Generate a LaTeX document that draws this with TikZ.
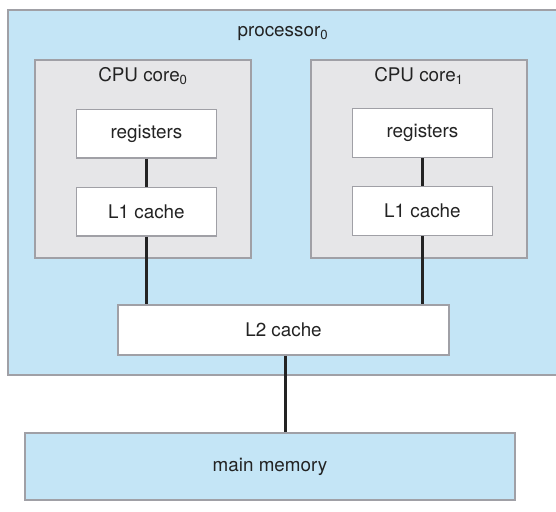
\documentclass[tikz,border=0pt]{standalone}
\usepackage{fontspec}
\setmainfont{TeX Gyre Heros}
\usepackage{tikz}
\usetikzlibrary{positioning}
\definecolor{procblue}{RGB}{196,229,246}
\definecolor{coregray}{RGB}{230,230,232}
\definecolor{edgegray}{RGB}{160,160,166}
\definecolor{inkgray}{RGB}{35,35,35}
\tikzset{
  box/.style={draw=edgegray, line width=0.9pt, inner sep=0pt},
  unit/.style={box, fill=white, minimum width=3.5cm, minimum height=1.22cm},
  wire/.style={line width=2.1pt, draw=inkgray}
}

\begin{document}
\begin{tikzpicture}[font=\fontsize{13.4}{15}\selectfont, text=inkgray]
            \useasboundingbox (0,0) rectangle (13.9,12.8);
            \node (P) [box, fill=procblue, minimum width=13.8cm, minimum height=9.125cm] at (7.1,7.9875) {};
            \node (Plab) at (7.075,11.975) {processor\textsubscript{0}};

            \node (C0) [box, fill=coregray, minimum width=5.4cm, minimum height=4.95cm] at (3.575,8.825) {};
            \node (C1) [box, fill=coregray, minimum width=5.4cm, minimum height=4.95cm] at (10.475,8.825) {};
            \node (C0lab) at (3.575,10.9) {CPU core\textsubscript{0}};
            \node (C1lab) at (10.475,10.9) {CPU core\textsubscript{1}};

            \node (R0) [unit] at (3.66,9.46) {registers};
            \node (L0) [unit, below = 0.7 of R0] {L1 cache};
            \node (R1) [unit] at (10.56,9.47) {registers};
            \node (L1) [unit, below = 0.7 of R1] {L1 cache};

            \node (L2) [unit, minimum width=8.275cm, minimum height=1.25cm] at (7.0875,4.55) {L2 cache};
            \node (M) [box, fill=procblue, minimum width=12.25cm, minimum height=1.675cm] at (6.75,1.1375) {main memory};

            \draw[wire] (R0) -- (L0);
            \draw[wire] (R1) -- (L1);
            \draw[wire] (L0.south) -- (L0.south |- L2.north);
            \draw[wire] (L1.south) -- (L1.south |- L2.north);
            \draw[wire] ([xshift=0.05cm]L2.south) -- ([xshift=0.05cm]L2.south |- M.north);
        \end{tikzpicture}
\end{document}
